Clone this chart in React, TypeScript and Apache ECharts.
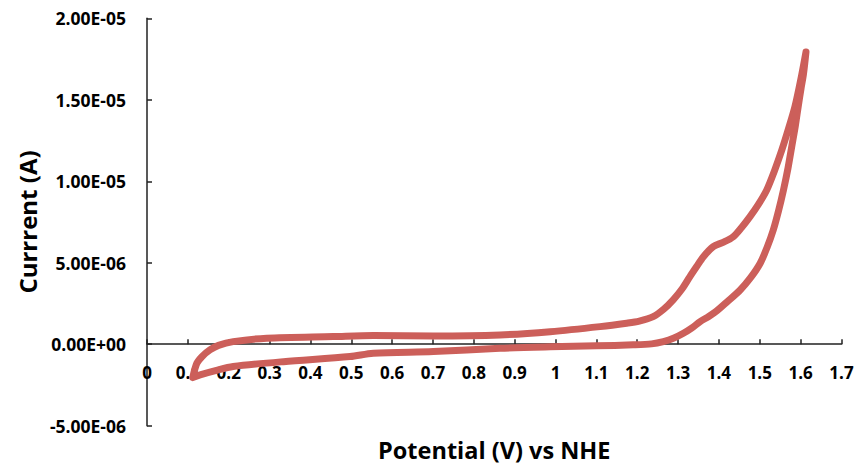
import React, { useEffect, useRef } from "react";
import * as echarts from "echarts";

// Cyclic voltammogram, traced as one closed loop starting at the anodic tip
const potential: number[] = [
  1.613, 1.600, 1.586, 1.570, 1.554, 1.536, 1.517, 1.497, 1.476, 1.455, 1.435, 1.410, 1.386, 1.362, 1.345, 1.329,
  1.310, 1.288, 1.265, 1.239, 1.205, 1.174, 1.109, 0.987, 0.864, 0.701, 0.554, 0.456, 0.293, 0.211, 0.175,
  0.154, 0.135, 0.122, 0.112,
  0.130, 0.170, 0.211, 0.334, 0.497, 0.554, 0.701, 0.864, 0.987, 1.100, 1.190, 1.235, 1.264, 1.290, 1.313, 1.334,
  1.354, 1.375, 1.395, 1.420, 1.452, 1.478, 1.501, 1.518, 1.533, 1.546, 1.558, 1.569, 1.578, 1.587, 1.594,
  1.601, 1.607, 1.613,
];
const current: number[] = [
  1.793e-5, 1.62e-5, 1.458e-5, 1.32e-5, 1.192e-5, 1.065e-5, 9.47e-6, 8.6e-6, 7.83e-6, 7.15e-6, 6.6e-6, 6.25e-6, 5.99e-6, 5.37e-6, 4.75e-6, 4.15e-6,
  3.4e-6, 2.72e-6, 2.15e-6, 1.69e-6, 1.42e-6, 1.29e-6, 1.08e-6, 7.7e-7, 5.7e-7, 5.1e-7, 5.3e-7, 4.7e-7, 3.7e-7, 1.6e-7, -7e-8,
  -3.5e-7, -7.5e-7, -1.17e-6, -2.05e-6,
  -1.88e-6, -1.6e-6, -1.37e-6, -1.07e-6, -7.6e-7, -5.5e-7, -4.5e-7, -2.5e-7, -1.6e-7, -1e-7, -4e-8, 2e-8, 1.6e-7, 3.8e-7, 6.7e-7, 1.0e-6,
  1.39e-6, 1.7e-6, 2.05e-6, 2.6e-6, 3.33e-6, 4.1e-6, 4.97e-6, 5.95e-6, 7.01e-6, 8.2e-6, 9.47e-6, 1.08e-5, 1.21e-5, 1.34e-5, 1.458e-5,
  1.57e-5, 1.66e-5, 1.793e-5,
];

const xTicks = { min: 0, max: 1.7, interval: 0.1 };
const yTicks = { min: -5e-6, max: 2e-5, interval: 5e-6 };

const xTitle = "Potential (V) vs NHE";
const yTitle = "Currrent (A)";

function sci(v: number): string {
  const s = v.toExponential(2);
  const [m, e] = s.split("e");
  const sign = e[0] === "-" ? "-" : "+";
  const digits = e.replace(/^[+-]/, "").padStart(2, "0");
  return `${m}E${sign}${digits}`;
}

export default function App() {
  const ref = useRef<HTMLDivElement>(null);
  useEffect(() => {
    if (!ref.current) return;
    const chart = echarts.init(ref.current, undefined, { renderer: "svg" });
    const font = "'Open Sans', Lato, sans-serif";
    const data = potential.map((x, i) => [x, current[i]]);
    chart.setOption({
      animation: false,
      backgroundColor: "#ffffff",
      grid: {
        left: 147,
        right: 17.5,
        top: 18.3,
        bottom: 40.3,
        containLabel: false,
        outerBoundsMode: "none",
      },
      xAxis: {
        type: "value",
        min: xTicks.min,
        max: xTicks.max,
        interval: xTicks.interval,
        name: xTitle,
        nameLocation: "middle",
        nameGap: 12,
        nameMoveOverlap: false,
        nameTextStyle: { fontFamily: font, fontWeight: "bold", fontSize: 23.5, color: "#000" },
        axisLine: { onZero: true, lineStyle: { color: "#222", width: 1.5 } },
        axisTick: { inside: true, length: 5, lineStyle: { color: "#222", width: 1.5 } },
        axisLabel: {
          margin: -62,
          fontFamily: font,
          fontWeight: "bold",
          fontSize: 17,
          color: "#000",
          formatter: (v: number) => String(+v.toFixed(1)),
        },
        splitLine: { show: false },
      },
      yAxis: {
        type: "value",
        min: yTicks.min,
        max: yTicks.max,
        interval: yTicks.interval,
        name: yTitle,
        nameLocation: "middle",
        nameGap: 108,
        nameTextStyle: { fontFamily: font, fontWeight: "bold", fontSize: 24, color: "#000" },
        axisLine: { show: true, onZero: false, lineStyle: { color: "#222", width: 1.5 } },
        axisTick: { show: true, inside: true, length: 5, lineStyle: { color: "#222", width: 1.5 } },
        axisLabel: {
          margin: 21,
          fontFamily: font,
          fontWeight: "bold",
          fontSize: 17.5,
          color: "#000",
          formatter: (v: number) => sci(v),
        },
        splitLine: { show: false },
      },
      series: [
        {
          type: "line",
          data,
          smooth: 0.3,
          showSymbol: false,
          symbol: "none",
          lineStyle: { color: "#CC5F5A", width: 7, cap: "round", join: "round" },
        },
      ],
    });
    return () => chart.dispose();
  }, []);
  return <div ref={ref} style={{ width: 859, height: 466, position: "absolute", left: 0, top: 0 }} />;
}
